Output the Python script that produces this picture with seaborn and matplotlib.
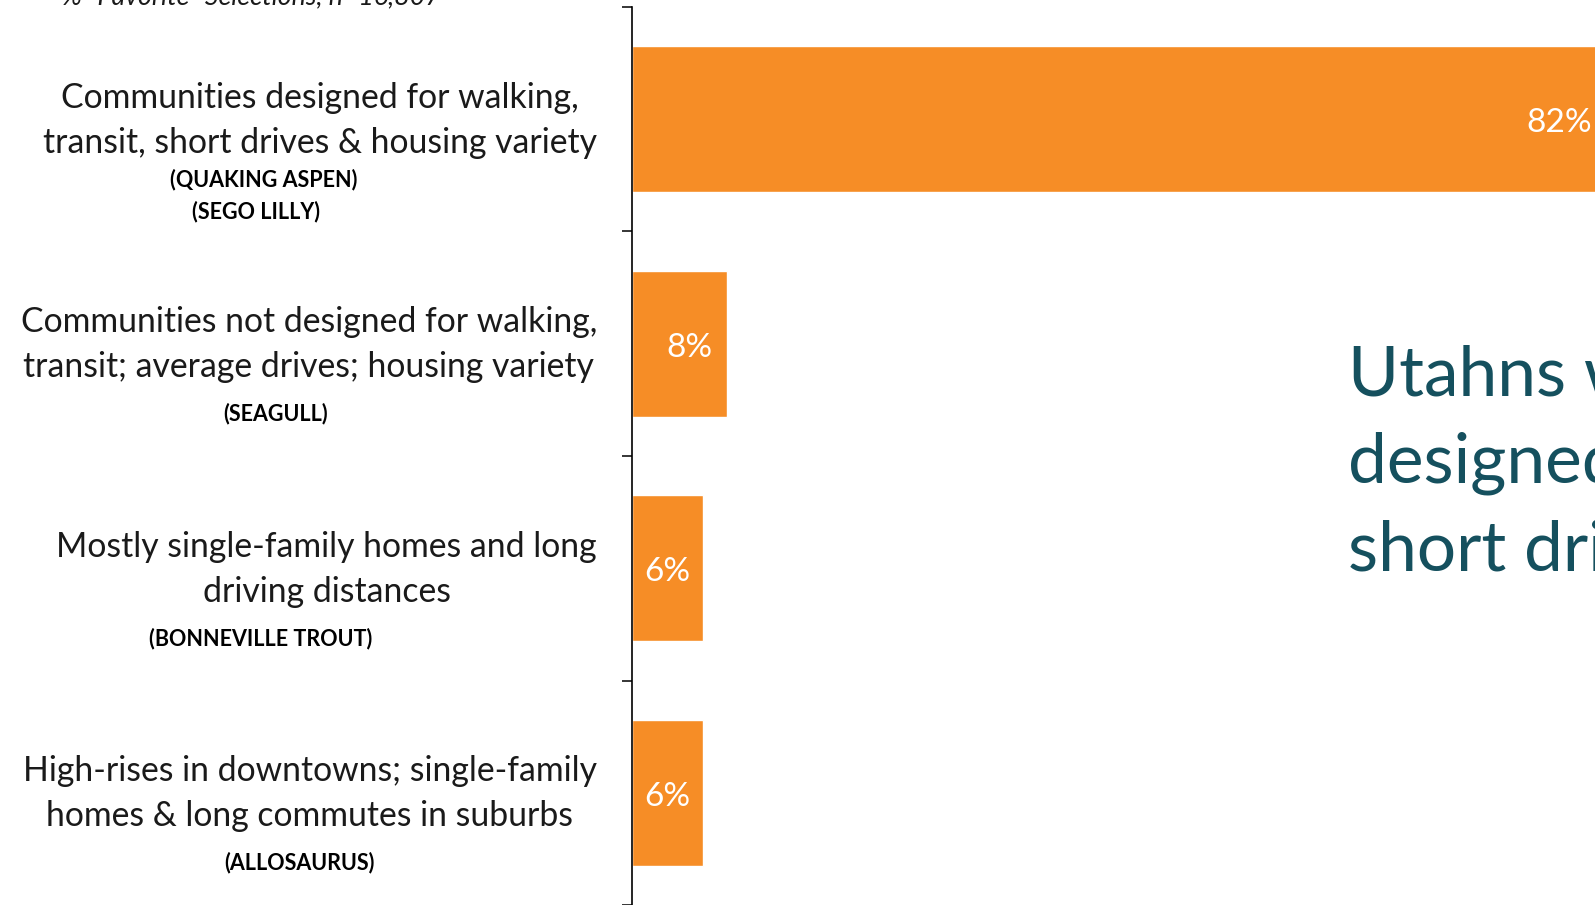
import matplotlib
matplotlib.use("Agg")
import matplotlib.pyplot as plt
import seaborn as sns
import pandas as pd

# Survey results: share of "favorite" selections per growth scenario
categories = [
    "Communities designed for walking,\ntransit, short drives & housing variety",
    "Communities not designed for walking,\ntransit; average drives; housing variety",
    "Mostly single-family homes and long\ndriving distances",
    "High-rises in downtowns; single-family\nhomes & long commutes in suburbs",
]
scenario_tags = [
    ["(QUAKING ASPEN)", "(SEGO LILLY)"],
    ["(SEAGULL)"],
    ["(BONNEVILLE TROUT)"],
    ["(ALLOSAURUS)"],
]
shares = [82, 8, 6, 6]
value_labels = ["82%", "8%", "6%", "6%"]
subtitle = '% "Favorite" Selections, n=16,807'
headline = "Utahns want communities\ndesigned for walking, transit,\nshort drives & housing variety"

ORANGE = "#F68D26"
TEAL = "#15505E"
W, H, DPI = 1595, 905, 100

sns.set_theme(style="white")
plt.rcParams["font.family"] = ["Lato", "DejaVu Sans"]

df = pd.DataFrame({"scenario": categories, "share": shares})

fig = plt.figure(figsize=(W / DPI, H / DPI), dpi=DPI)
fig.patch.set_facecolor("white")
# axes extends past the right edge of the figure, so the top bar runs off the page
ax = fig.add_axes([632 / W, 0, 1189 / W, 898 / H])

sns.barplot(data=df, x="share", y="scenario", orient="h", color=ORANGE,
            saturation=1, width=0.65, ax=ax)

ax.set_xlim(0, 100)
ax.set_ylim(len(categories) - 0.5, -0.5)
ax.set_xlabel("")
ax.set_ylabel("")
ax.set_xticks([])
ax.set_yticks([i - 0.5 for i in range(len(categories) + 1)])
ax.set_yticklabels([])
ax.tick_params(axis="y", direction="out", length=7.5, width=1.1, color="black", left=True)
for side in ["top", "right", "bottom"]:
    ax.spines[side].set_visible(False)
ax.spines["left"].set_color("black")
ax.spines["left"].set_linewidth(1.2)
ax.set_facecolor("white")

ytrans = ax.get_yaxis_transform()

# Category descriptions with their scenario names underneath
tag_dx = [[-368, -376], [-356], [-371], [-333]]
tag_dy = [[-60, -92], [-70], [-70], [-70]]
for i, (label, tags) in enumerate(zip(categories, scenario_tags)):
    ax.annotate(label, xy=(0, i), xycoords=ytrans, xytext=(-35, -1),
                textcoords="offset pixels", ha="right", va="center",
                multialignment="center", fontsize=24.3, fontweight="normal",
                color="#1a1a1a", linespacing=1.50, annotation_clip=False)
    for tag, dx, dy in zip(tags, tag_dx[i], tag_dy[i]):
        ax.annotate(tag, xy=(0, i), xycoords=ytrans, xytext=(dx, dy),
                    textcoords="offset pixels", ha="center", va="center",
                    fontsize=15.5, fontweight="bold", color="black",
                    annotation_clip=False)

# Value labels at the inside end of each bar
value_texts = []
for i, (v, lab) in enumerate(zip(shares, value_labels)):
    t = ax.annotate(lab, xy=(v, i), xycoords="data", xytext=(-15, -4),
                    textcoords="offset pixels", ha="right", va="center",
                    fontsize=24, color="white", annotation_clip=False)
    value_texts.append(t)

fig.canvas.draw()
renderer = fig.canvas.get_renderer()
x0_px = ax.transData.transform((0, 0))[0]
for t, v in zip(value_texts, shares):
    bar_px = ax.transData.transform((v, 0))[0] - x0_px
    text_px = t.get_window_extent(renderer).width
    pad = min(15, (bar_px - text_px) / 2)
    t.xyann = (-pad, -4)

fig.text(251 / W, 1 - 4 / H, subtitle, ha="center", va="baseline",
         fontsize=19.3, fontstyle="italic", color="#1a1a1a")

fig.text(1348 / W, 1 - 344 / H, headline, ha="left", va="top",
         fontsize=50, color=TEAL, linespacing=1.48)

fig.savefig("out.png", dpi=DPI, facecolor="white")
